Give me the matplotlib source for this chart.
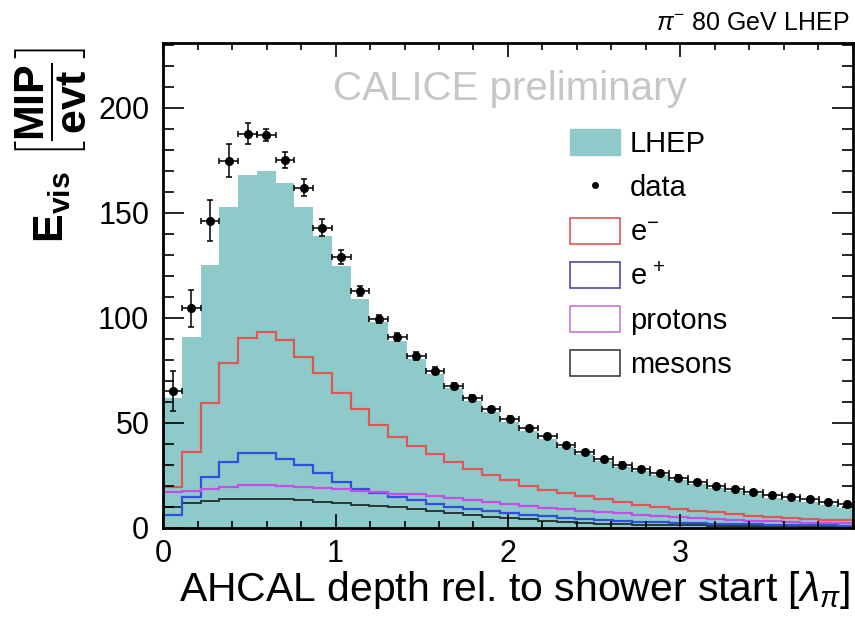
import numpy as np
import matplotlib
matplotlib.use("Agg")
import matplotlib.pyplot as plt
from matplotlib.ticker import MultipleLocator, FixedLocator
from matplotlib.patches import Patch
from matplotlib.lines import Line2D

# ==========================
# FONT / STYLE SETTINGS
# ==========================
TICK_FONTSIZE   = 22
TITLE_FONTSIZE  = 29.4
LEGEND_FONTSIZE = 21
TEAL   = "#8fcaca"
RED    = "#de5757"
BLUE   = "#2f50d8"
PURPLE = "#c34fe6"
DARK   = "#283838"
# ==========================

BIN_WIDTH = 0.1087  # depth per layer in lambda_pi

# visible energy per layer, data
DATA = [65.4, 104.6, 146.2, 174.9, 187.6, 187.1, 175.2, 161.9, 142.9, 129.0,
        112.9, 99.5, 90.8, 81.8, 74.9, 67.6, 61.9, 56.5, 51.9, 47.5,
        43.8, 39.5, 36.3, 33.0, 30.2, 28.2, 26.3, 24.0, 21.8, 19.9,
        18.6, 17.3, 15.7, 14.7, 13.8, 12.5, 11.5]
DATA_ERR = [9.5, 8.7, 9.7, 8.0, 5.0, 3.0, 3.7, 4.0, 4.0, 3.5,
            2.5, 2.0, 2.0, 1.8, 1.5, 1.5, 1.3, 1.2, 1.2, 1.0,
            1.0, 1.0, 1.0, 1.0, 1.0, 1.0, 1.0, 1.0, 1.0, 1.0,
            1.0, 1.0, 1.0, 1.0, 1.0, 1.0, 1.0]

# LHEP simulation, total and contributions
LHEP = [62, 91, 125, 153, 168, 170, 164, 153, 139, 124.5,
        109, 98, 89, 80.5, 73.5, 66.5, 60.5, 55, 50.5, 46,
        42.5, 38.5, 35, 32, 29, 27, 25, 23, 21, 19,
        17.5, 16, 14.5, 13.3, 12.2, 11, 9.5]
E_MINUS = [19.5, 36.3, 59.4, 78.4, 90.3, 93.2, 89.5, 81.6, 73.7, 64.3,
           56.4, 49, 43.5, 38.8, 35.1, 31.5, 28.3, 25.4, 23, 20.2,
           18.1, 16.5, 15, 13.7, 12.2, 11, 9.8, 8.9, 8.2, 7.4,
           6.6, 5.8, 5.3, 4.7, 4.2, 3.9, 3.7]
E_PLUS = [6.2, 14.9, 24.4, 31.6, 35.6, 35.9, 32.9, 30, 26, 22,
          18.4, 16.8, 14.9, 13.3, 11.4, 10.1, 9, 7.9, 6.9, 6.3,
          5.5, 4.7, 4.2, 3.7, 3.3, 3.0, 2.7, 2.4, 2.2, 2.0,
          1.8, 1.7, 1.5, 1.4, 1.3, 1.2, 1.1]
PROTONS = [17.3, 17.8, 18.4, 19.7, 20.3, 20.3, 20.0, 19.7, 19.0, 18.4,
           17.6, 17.2, 16.2, 16.0, 15.4, 14.3, 13.3, 12.5, 11.4, 10.5,
           9.7, 8.9, 8.2, 7.6, 6.9, 6.3, 5.6, 5.1, 4.7, 4.2,
           3.9, 3.4, 3.2, 2.9, 2.6, 2.4, 2.3]
MESONS = [9.8, 12.0, 13.0, 13.6, 14.0, 14.0, 13.6, 13.3, 12.5, 11.7,
          10.9, 10.5, 9.8, 9.2, 7.9, 6.9, 6.3, 5.3, 4.7, 4.1,
          3.4, 2.9, 2.5, 2.0, 1.8, 1.6, 1.4, 1.3, 1.2, 1.1,
          1.0, 0.9, 0.8, 0.8, 0.7, 0.7, 0.6]

X_TICKS = [0, 1, 2, 3]
LEGEND_LABELS = ["LHEP", "data", r"e$^{-}$", r"e$^{\,+}$", "protons", "mesons"]


def main():
    plt.rcParams["font.family"] = ["Liberation Sans", "DejaVu Sans"]
    plt.rcParams["mathtext.fontset"] = "custom"
    plt.rcParams["mathtext.rm"] = "Liberation Sans"
    plt.rcParams["mathtext.it"] = "Liberation Sans:italic"
    plt.rcParams["mathtext.bf"] = "Liberation Sans:bold"

    n = len(DATA)
    edges = np.arange(n + 1) * BIN_WIDTH
    centers = 0.5 * (edges[:-1] + edges[1:])

    fig = plt.figure(figsize=(8.55, 6.23), dpi=100)
    ax = fig.add_axes([0.1909, 0.1525, 0.8064, 0.779])

    # --- simulation ---
    ax.stairs(LHEP, edges, fill=True, color=TEAL, lw=0)
    ax.stairs(E_MINUS, edges, baseline=None, color=RED, lw=1.6)
    ax.stairs(MESONS, edges, baseline=None, color=DARK, lw=1.4)
    ax.stairs(E_PLUS, edges, baseline=None, color=BLUE, lw=1.6)
    ax.stairs(PROTONS, edges, baseline=None, color=PURPLE, lw=1.6)

    # --- data ---
    ax.errorbar(centers, DATA, xerr=BIN_WIDTH / 2, yerr=DATA_ERR, fmt="o",
                color="black", ms=5.5, elinewidth=1.1, capsize=2.2, capthick=1.1)

    ax.set_xlim(0, 4.0)
    ax.set_ylim(0, 231)
    ax.xaxis.set_major_locator(FixedLocator(X_TICKS))
    ax.xaxis.set_minor_locator(MultipleLocator(0.2))
    ax.yaxis.set_major_locator(MultipleLocator(50))
    ax.yaxis.set_minor_locator(MultipleLocator(10))

    ax.tick_params(which="both", direction="in", top=True, right=True,
                   width=1.2, labelsize=TICK_FONTSIZE)
    ax.tick_params(axis="x", which="major", length=10, pad=8)
    ax.tick_params(axis="x", which="minor", length=5)
    ax.tick_params(axis="y", which="major", length=15, pad=10)
    ax.tick_params(axis="y", which="minor", length=8)
    for sp in ax.spines.values():
        sp.set_linewidth(2.0)

    # labels
    fig.text(0.994, 0.036, r"AHCAL depth rel. to shower start [$\lambda_{\pi}$]",
             ha="right", va="baseline", fontsize=TITLE_FONTSIZE)
    fig.text(0.060, 0.924,
             r"$\mathbf{E_{vis}}\ \left[\dfrac{\mathbf{MIP}}{\mathbf{evt}}\right]$",
             rotation=90, ha="center", va="top", fontsize=31)
    fig.text(0.994, 0.952, r"$\pi^{-}$ 80 GeV LHEP", ha="right", va="baseline",
             fontsize=18)
    ax.text(0.503, 0.905, "CALICE preliminary", transform=ax.transAxes,
            ha="center", va="center", fontsize=29, color="#c6c6c6")

    # legend
    handles = [
        Patch(facecolor=TEAL, edgecolor=TEAL),
        Line2D([], [], marker="o", ls="none", color="black", ms=4),
        Patch(facecolor="white", edgecolor=RED, lw=1.2),
        Patch(facecolor="white", edgecolor="#4a4aa8", lw=1.2),
        Patch(facecolor="white", edgecolor="#c77ad8", lw=1.2),
        Patch(facecolor="white", edgecolor="#404040", lw=1.2),
    ]
    ax.legend(handles, LEGEND_LABELS, loc="upper left",
              bbox_to_anchor=(0.569, 0.852), frameon=False,
              fontsize=LEGEND_FONTSIZE, handlelength=1.7, handleheight=1.0,
              handletextpad=0.35, labelspacing=0.52, borderpad=0)

    fig.savefig("out.png", dpi=100)
    plt.close(fig)


if __name__ == "__main__":
    main()
